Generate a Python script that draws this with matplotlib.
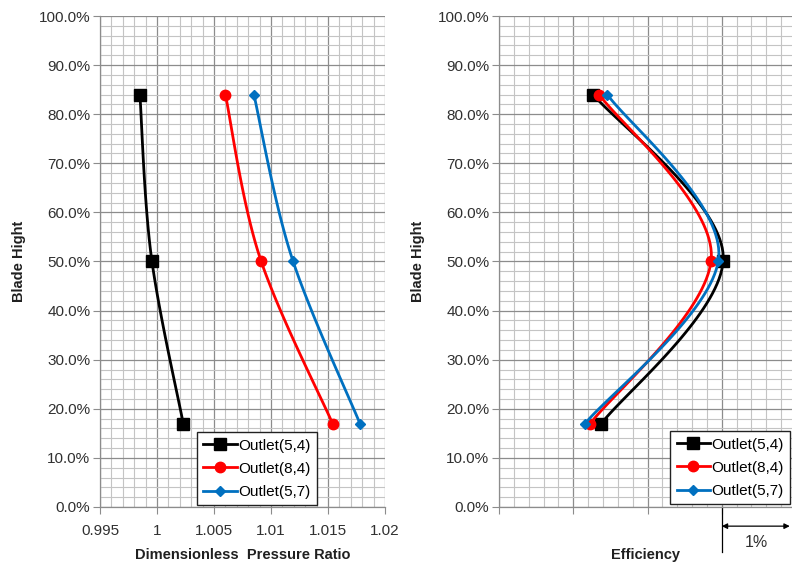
import numpy as np
import matplotlib
matplotlib.use("Agg")
import matplotlib.pyplot as plt
from matplotlib.ticker import MultipleLocator, FixedLocator, PercentFormatter

plt.rcParams['font.family'] = ['Liberation Sans', 'DejaVu Sans']

# ---------------- data ----------------
series_names = ["Outlet(5,4)", "Outlet(8,4)", "Outlet(5,7)"]
blade_height = [0.84, 0.51, 0.17]

pressure_54 = [0.9985, 0.9995, 1.0023]
pressure_84 = [1.0060, 1.0090, 1.0154]
pressure_57 = [1.0085, 1.0118, 1.0178]

# efficiency, relative scale in percentage points (axis has no labels)
eff_54 = [1.27, 3.02, 1.38]
eff_84 = [1.35, 2.86, 1.23]
eff_57 = [1.46, 2.96, 1.16]

pressure_ticks = [0.995, 1.0, 1.005, 1.01, 1.015, 1.02]
pressure_ticklabels = ["0.995", "1", "1.005", "1.01", "1.015", "1.02"]

colors = ["#000000", "#ff0000", "#0070c0"]
markers = ["s", "o", "D"]
msizes = [8, 7.5, 5]


def smooth(xs, ys, n=40):
    """Excel-like smoothed line (Catmull-Rom Bezier)."""
    P = np.column_stack([xs, ys]).astype(float)
    m = len(P)
    out = []
    idx = []
    t = np.linspace(0, 1, n)
    for i in range(m - 1):
        p0 = P[i - 1] if i > 0 else P[i]
        p1 = P[i]
        p2 = P[i + 1]
        p3 = P[i + 2] if i + 2 < m else P[i + 1]
        c1 = p1 + (p2 - p0) / 6.0
        c2 = p2 - (p3 - p1) / 6.0
        seg = ((1 - t) ** 3)[:, None] * p1 + (3 * (1 - t) ** 2 * t)[:, None] * c1 \
            + (3 * (1 - t) * t ** 2)[:, None] * c2 + (t ** 3)[:, None] * p2
        if i > 0:
            seg = seg[1:]
        idx.append(len(out))
        out.extend(seg.tolist())
    idx.append(len(out) - 1)
    out = np.array(out)
    return out[:, 0], out[:, 1], idx


fig = plt.figure(figsize=(7.92, 5.66), dpi=100)
ax1 = fig.add_axes([100 / 792, 59 / 566, 285 / 792, 491 / 566])
ax2 = fig.add_axes([499 / 792, 59 / 566, 293 / 792, 491 / 566])

major_c = "#8c8c8c"
minor_c = "#c4c4c4"
txt_c = "#303030"

for ax in (ax1, ax2):
    ax.set_ylim(0, 1)
    ax.yaxis.set_major_locator(MultipleLocator(0.1))
    ax.yaxis.set_minor_locator(MultipleLocator(0.02))
    ax.yaxis.set_major_formatter(PercentFormatter(1.0, decimals=1))
    ax.grid(which="major", color=major_c, lw=0.9, zorder=0)
    ax.grid(which="minor", color=minor_c, lw=0.8, zorder=0)
    ax.set_axisbelow(True)
    for s in ("top", "right"):
        ax.spines[s].set_visible(False)
    for s in ("left", "bottom"):
        ax.spines[s].set_color(major_c)
        ax.spines[s].set_linewidth(0.9)
    ax.tick_params(which="major", direction="out", length=5, color=major_c,
                   labelsize=11, labelcolor=txt_c, pad=2)
    ax.tick_params(which="minor", length=0)
    ax.set_ylabel("Blade Hight", fontsize=10.5, fontweight="bold", color="#202020", labelpad=9)

# ---- left: pressure ratio ----
ax1.set_xlim(0.995, 1.02)
ax1.xaxis.set_major_locator(FixedLocator(pressure_ticks))
ax1.set_xticklabels(pressure_ticklabels)
ax1.xaxis.set_minor_locator(MultipleLocator(0.001))
ax1.tick_params(axis="x", pad=7)
fig.text(243 / 792, (566 - 555) / 566, "Dimensionless  Pressure Ratio", fontsize=10.5,
         fontweight="bold", color="#202020", ha="center", va="center")

for xs, c, mk, ms, name in zip([pressure_54, pressure_84, pressure_57], colors, markers, msizes, series_names):
    sx, sy, idx = smooth(xs, blade_height)
    ax1.plot(sx, sy, color=c, lw=2.0, marker=mk, ms=ms, markevery=idx, label=name, zorder=3)

leg_kw = dict(loc="lower left", fontsize=11, frameon=True, fancybox=False,
              edgecolor="#222222", framealpha=1, handlelength=2.2, handletextpad=0.1,
              labelspacing=0.6, borderpad=0.4, borderaxespad=0, numpoints=1)
leg1 = ax1.legend(bbox_to_anchor=(0.34, 0.004), **leg_kw)
leg1.get_frame().set_linewidth(1.0)

# ---- right: efficiency ----
ax2.set_xlim(0, 292 / 74)
ax2.xaxis.set_major_locator(MultipleLocator(1))
ax2.xaxis.set_minor_locator(MultipleLocator(0.2))
ax2.tick_params(axis="x", labelbottom=False)
fig.text(645 / 792, (566 - 555) / 566, "Efficiency", fontsize=10.5,
         fontweight="bold", color="#202020", ha="center", va="center")

for xs, c, mk, ms, name in zip([eff_54, eff_84, eff_57], colors, markers, msizes, series_names):
    sx, sy, idx = smooth(xs, blade_height)
    ax2.plot(sx, sy, color=c, lw=2.0, marker=mk, ms=ms, markevery=idx, label=name, zorder=3)

leg2 = ax2.legend(bbox_to_anchor=(0.585, 0.006), **leg_kw)
leg2.get_frame().set_linewidth(1.0)

# 1% scale annotation
trans = ax2.get_xaxis_transform()
ax2.plot([3, 3], [0, -0.092], color="#000000", lw=0.9, transform=trans, clip_on=False)
ax2.annotate("", xy=(3.0, -0.039), xytext=(292 / 74 - 0.03, -0.039), xycoords=trans,
             textcoords=trans,
             arrowprops=dict(arrowstyle="<|-|>", color="#000000", lw=0.9,
                             mutation_scale=8, shrinkA=0, shrinkB=0))
ax2.text(3.46, -0.072, "1%", transform=trans, ha="center", va="center",
         fontsize=11.5, color=txt_c)

fig.savefig("out.png", dpi=100)
